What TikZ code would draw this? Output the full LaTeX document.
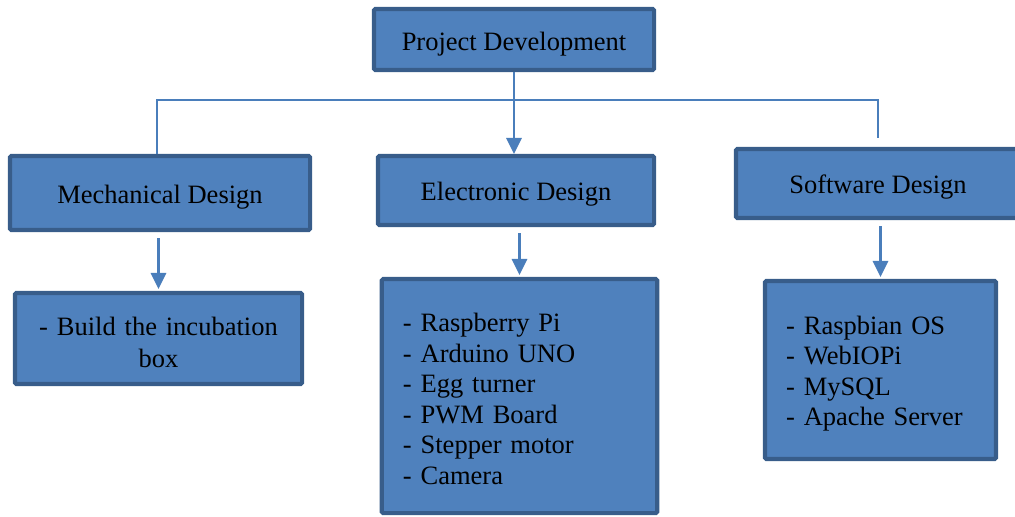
\documentclass[tikz,border=0pt]{standalone}
\usepackage{fontspec}
\setmainfont{Liberation Serif}
\usepackage{tikz}
\usetikzlibrary{arrows.meta}
\definecolor{boxfill}{HTML}{4F81BD}
\definecolor{boxline}{HTML}{385D8A}
\definecolor{linkblue}{HTML}{4A7EBB}
\tikzset{
    block/.style={draw=boxline, fill=boxfill, line width=2.9pt, rounded corners=1pt,
        font=\fontsize{18.85pt}{21.7pt}\selectfont, align=center, inner sep=0pt, text height=18.5pt},
    listblock/.style={block, align=left, inner xsep=0.53cm},
    linkarrow/.style={draw=linkblue, line width=1.8pt, -{Triangle[width=0.38cm,length=0.4cm]}},
    busline/.style={draw=linkblue, line width=1.1pt}
}
\begin{document}
\begin{tikzpicture}[x=0.025cm, y=-0.025cm]
       \clip (0,0) rectangle (1015,516);
        \node[block, minimum width=7cm, minimum height=1.525cm, text height=20pt] (proj) at (514,39.5) {Project Development};
        \node[block, minimum width=7.5cm, minimum height=1.85cm] (mech) at (160,193) {Mechanical Design};
        \node[block, minimum width=6.9cm, minimum height=1.725cm] (elec) at (516,190.5) {Electronic Design};
        \node[block, minimum width=7.1cm, minimum height=1.725cm] (soft) at (878,183.5) {Software Design};
          \node[block, text width=7.175cm, minimum height=2.275cm,
                font=\fontsize{18.85pt}{22.5pt}\selectfont] (mechlist) at (158.5,338.5)
                {- Build the incubation\\box};
          \node[listblock, text width=5.825cm, minimum height=5.85cm, text height=17.5pt] (eleclist) at (519.5,396)
                {- Raspberry Pi\\- Arduino UNO\\- Egg turner\\- PWM Board\\- Stepper motor\\- Camera};
          \node[listblock, text width=4.715cm, minimum height=4.45cm] (softlist) at (880.5,370)
                {- Raspbian OS\\- WebIOPi\\- MySQL\\- Apache Server};
          % branch line over the three designs
          \coordinate (busL) at (157,100);
          \coordinate (busR) at (878,100);
          \draw[busline] (mech.north -| busL) -- (busL) -- (busR) -- ([yshift=0.225cm]soft.north);
          \draw[linkarrow] (proj.south) -- (proj.south |- elec.north);
          \foreach \from/\to in {mech/mechlist, elec/eleclist, soft/softlist} {
          \draw[linkarrow] ([yshift=-0.15cm]\from.south -| \to.north) -- ([yshift=0.05cm]\to.north);
          }
    \end{tikzpicture}
\end{document}
